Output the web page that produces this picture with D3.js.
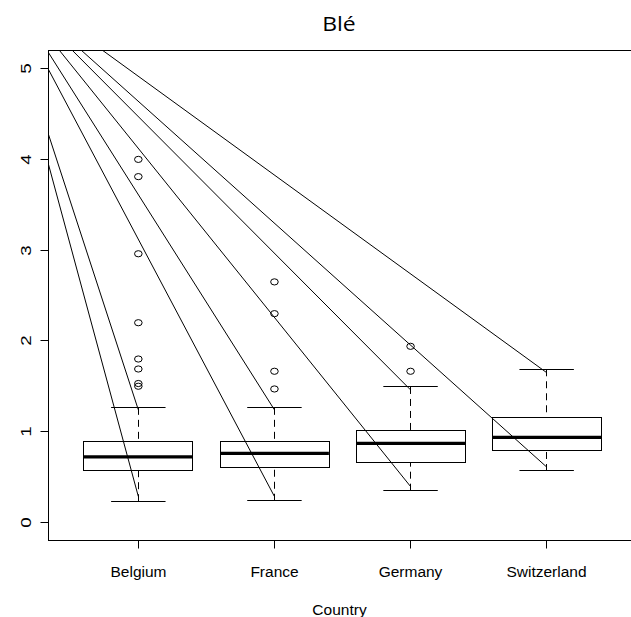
<!DOCTYPE html>
<html>
<head>
<meta charset="utf-8">
<script src="https://cdn.jsdelivr.net/npm/d3@7"></script>
<style>
  body { margin: 0; background: #fff; }
  svg { display: block; }
</style>
</head>
<body>
<script>
// Wheat ("Blé") values by country: box statistics, outliers and guide lines
const countries = ["Belgium", "France", "Germany", "Switzerland"];
const whiskerLow = [0.233, 0.238, 0.349, 0.566];
const q1 = [0.571, 0.610, 0.654, 0.797];
const medians = [0.722, 0.760, 0.870, 0.937];
const q3 = [0.894, 0.892, 1.010, 1.161];
const whiskerHigh = [1.262, 1.262, 1.492, 1.687];
const outliers = [
  [4.0, 3.81, 2.96, 2.2, 1.8, 1.69, 1.53, 1.50],
  [2.65, 2.30, 1.665, 1.47],
  [1.94, 1.665],
  []
];

// Straight lines running from the upper-left corner down to each group
const lineStartX = [0.34, 0.34, 0.34, 0.33, 0.421, 0.516, 0.583, 0.739];
const lineStartY = [3.944, 4.274, 4.99, 5.2, 5.2, 5.2, 5.2, 5.2];
const lineEndGroup = [0, 0, 1, 1, 2, 2, 3, 3];
const lineEndY = [0.285, 1.24, 0.285, 1.24, 0.395, 1.46, 0.61, 1.65];

const yTicks = [0, 1, 2, 3, 4, 5];
const titleText = "Blé";
const xTitle = "Country";

const W = 631, H = 617;
const plot = { left: 48.5, right: 636.5, top: 50.5, bottom: 540.5 };

const x = d3.scaleLinear().domain([0.34, 4.66]).range([plot.left, plot.right]);
const y = d3.scaleLinear().domain([-0.2, 5.2]).range([plot.bottom, plot.top]);

const svg = d3.select("body").append("svg")
  .attr("width", W).attr("height", H)
  .attr("viewBox", `0 0 ${W} ${H}`);

svg.append("defs").append("clipPath").attr("id", "plot-clip")
  .append("rect")
  .attr("x", plot.left).attr("y", plot.top)
  .attr("width", plot.right - plot.left).attr("height", plot.bottom - plot.top);

const ink = "#000";
const boxHalf = 0.4, capHalf = 0.2;
const crisp = v => Math.round(v - 0.5) + 0.5;

const groups = countries.map((c, i) => ({
  name: c, pos: i + 1,
  lo: whiskerLow[i], q1: q1[i], med: medians[i], q3: q3[i], hi: whiskerHigh[i],
  out: outliers[i]
}));

const g = svg.append("g").attr("clip-path", "url(#plot-clip)");

// whiskers (dashed) from the box edges out to the caps
g.selectAll(".whisker-up").data(groups).join("line")
  .attr("x1", d => crisp(x(d.pos))).attr("x2", d => crisp(x(d.pos)))
  .attr("y1", d => y(d.hi)).attr("y2", d => y(d.q3))
  .attr("stroke", ink).attr("stroke-width", 1).attr("stroke-dasharray", "7,5");
g.selectAll(".whisker-down").data(groups).join("line")
  .attr("x1", d => crisp(x(d.pos))).attr("x2", d => crisp(x(d.pos)))
  .attr("y1", d => y(d.lo)).attr("y2", d => y(d.q1))
  .attr("stroke", ink).attr("stroke-width", 1).attr("stroke-dasharray", "7,5");

// caps
["hi", "lo"].forEach(k => {
  g.selectAll(".cap-" + k).data(groups).join("line")
    .attr("x1", d => x(d.pos - capHalf)).attr("x2", d => x(d.pos + capHalf))
    .attr("y1", d => crisp(y(d[k]))).attr("y2", d => crisp(y(d[k])))
    .attr("stroke", ink).attr("stroke-width", 1);
});

// boxes
g.selectAll(".box").data(groups).join("rect")
  .attr("x", d => crisp(x(d.pos - boxHalf)))
  .attr("width", d => Math.round(x(d.pos + boxHalf) - x(d.pos - boxHalf)))
  .attr("y", d => crisp(y(d.q3)))
  .attr("height", d => Math.round(y(d.q1) - y(d.q3)))
  .attr("fill", "#fff").attr("stroke", ink).attr("stroke-width", 1);

// medians
g.selectAll(".median").data(groups).join("line")
  .attr("x1", d => x(d.pos - boxHalf)).attr("x2", d => x(d.pos + boxHalf))
  .attr("y1", d => y(d.med)).attr("y2", d => y(d.med))
  .attr("stroke", ink).attr("stroke-width", 3.2);

// outliers
const outPts = groups.flatMap(d => d.out.map(v => ({ pos: d.pos, v })));
g.selectAll(".outlier").data(outPts).join("ellipse")
  .attr("cx", d => x(d.pos)).attr("cy", d => y(d.v))
  .attr("rx", 3.8).attr("ry", 3.1)
  .attr("fill", "none").attr("stroke", ink).attr("stroke-width", 1);

// guide lines
const lines = lineStartX.map((sx, i) => ({
  x1: sx, y1: lineStartY[i], x2: lineEndGroup[i] + 1, y2: lineEndY[i]
}));
g.selectAll(".guide").data(lines).join("line")
  .attr("x1", d => x(d.x1)).attr("y1", d => y(d.y1))
  .attr("x2", d => x(d.x2)).attr("y2", d => y(d.y2))
  .attr("stroke", ink).attr("stroke-width", 1);

// frame
svg.append("rect")
  .attr("x", plot.left).attr("y", plot.top)
  .attr("width", plot.right - plot.left).attr("height", plot.bottom - plot.top)
  .attr("fill", "none").attr("stroke", ink).attr("stroke-width", 1);

// y axis
const yAxis = svg.append("g")
  .attr("transform", `translate(${plot.left},0)`)
  .call(d3.axisLeft(y).tickValues(yTicks).tickSize(8).tickPadding(0).tickFormat(d3.format("d")));
yAxis.select(".domain").remove();
yAxis.selectAll(".tick").attr("transform", d => `translate(0,${crisp(y(d))})`);
yAxis.selectAll(".tick line").attr("stroke", ink);
yAxis.selectAll(".tick text")
  .attr("x", null).attr("dy", null)
  .attr("text-anchor", "middle")
  .attr("font-family", "'Liberation Sans', Arial, sans-serif")
  .attr("font-size", 15)
  .attr("fill", ink)
  .attr("transform", "translate(-22.5,0) rotate(-90) scale(1.25,1) translate(0,5.3)");

// x axis
const xAxis = svg.append("g")
  .attr("transform", `translate(0,${plot.bottom})`)
  .call(d3.axisBottom(x).tickValues(groups.map(d => d.pos)).tickSize(8)
    .tickFormat(v => countries[v - 1]));
xAxis.select(".domain").remove();
xAxis.selectAll(".tick").attr("transform", d => `translate(${crisp(x(d))},0)`);
xAxis.selectAll(".tick line").attr("stroke", ink);
xAxis.selectAll(".tick text")
  .attr("y", 36).attr("dy", null)
  .attr("font-family", "'Liberation Sans', Arial, sans-serif")
  .attr("font-size", 15.5)
  .attr("fill", ink);

// axis title
svg.append("text")
  .attr("x", (plot.left + plot.right) / 2 - 3).attr("y", 615)
  .attr("text-anchor", "middle")
  .attr("font-family", "'Liberation Sans', Arial, sans-serif")
  .attr("font-size", 15.5)
  .attr("fill", ink)
  .text(xTitle);

// chart title
svg.append("text")
  .attr("transform", "translate(339,30.5) scale(1.12,1)")
  .attr("text-anchor", "middle")
  .attr("font-family", "'Open Sans', Lato, sans-serif")
  .attr("font-size", 20.5)
  .attr("fill", ink)
  .text(titleText);
</script>
</body>
</html>
